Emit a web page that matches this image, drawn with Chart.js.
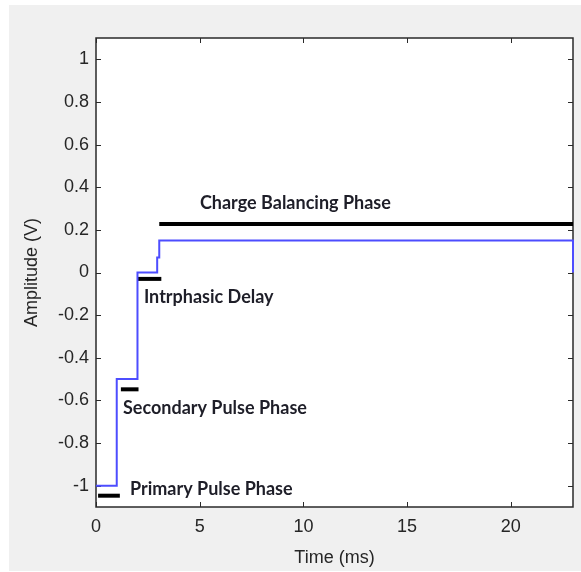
<!DOCTYPE html>
<html lang="en">
<head>
  <meta charset="UTF-8">
  <title>Biphasic pulse</title>
  <script src="https://cdn.jsdelivr.net/npm/chart.js"></script>
  <style>
    html, body { margin: 0; padding: 0; background: #fff; }
    #wrap { width: 581px; height: 572px; }
  </style>
</head>
<body>
  <div id="wrap">
    <canvas id="myChart" width="581" height="572"></canvas>
  </div>

  <script>
    // axis ticks
    const xTicks = [0, 5, 10, 15, 20];
    const yTicks = [-1, -0.8, -0.6, -0.4, -0.2, 0, 0.2, 0.4, 0.6, 0.8, 1];
    const yTickLabels = ['-1', '-0.8', '-0.6', '-0.4', '-0.2', '0', '0.2', '0.4', '0.6', '0.8', '1'];

    // stimulus waveform (ms, V)
    const signalTime = [0, 1, 1, 2, 2, 2.95, 2.95, 3.05, 3.05, 23, 23];
    const signalAmp = [-1, -1, -0.5, -0.5, 0, 0, 0.07, 0.07, 0.15, 0.15, 0];

    // phase markers
    const phaseNames = ['Primary Pulse Phase', 'Secondary Pulse Phase', 'Intrphasic Delay', 'Charge Balancing Phase'];
    const phaseStart = [0.1, 1.2, 2.0, 3.05];
    const phaseEnd = [1.15, 2.05, 3.15, 23];
    const phaseLevel = [-1.047, -0.548, -0.03, 0.228];
    const labelTime = [1.64, 1.30, 2.31, 5.01];
    const labelAmp = [-1.016, -0.636, -0.115, 0.326];

    const signalPts = signalTime.map((t, i) => ({ x: t, y: signalAmp[i] }));

    const datasets = [{
      label: 'signal',
      data: signalPts,
      showLine: true,
      borderColor: '#4d4dff',
      borderWidth: 2,
      pointRadius: 0,
      tension: 0,
      clip: 2
    }];
    phaseNames.forEach((name, i) => {
      datasets.push({
        label: name,
        data: [{ x: phaseStart[i], y: phaseLevel[i] }, { x: phaseEnd[i], y: phaseLevel[i] }],
        showLine: true,
        borderColor: '#000',
        borderWidth: 4,
        borderCapStyle: 'butt',
        pointRadius: 0,
        clip: 2
      });
    });

    const axisColor = '#2a2a2a';

    const background = {
      id: 'background',
      beforeDraw(chart) {
        const c = chart.ctx, a = chart.chartArea;
        c.save();
        c.fillStyle = '#fff';
        c.fillRect(0, 0, chart.width, chart.height);
        c.fillStyle = '#f0f0f0';
        c.fillRect(9, 5, chart.width - 9, 566);
        c.fillStyle = '#fff';
        c.fillRect(a.left, a.top, a.right - a.left, a.bottom - a.top);
        c.restore();
      }
    };

    // matlab style box with inward ticks on all four sides, drawn under the lines
    const frame = {
      id: 'frame',
      beforeDatasetsDraw(chart) {
        const c = chart.ctx, a = chart.chartArea;
        const xs = chart.scales.x, ys = chart.scales.y;
        c.save();
        c.strokeStyle = axisColor;
        c.lineWidth = 1.5;
        c.strokeRect(a.left, a.top, a.right - a.left, a.bottom - a.top);
        c.lineWidth = 1;
        c.beginPath();
        xTicks.forEach(v => {
          const px = Math.round(xs.getPixelForValue(v)) + 0.5;
          c.moveTo(px, a.bottom); c.lineTo(px, a.bottom - 5);
          c.moveTo(px, a.top); c.lineTo(px, a.top + 5);
        });
        yTicks.forEach(v => {
          const py = Math.round(ys.getPixelForValue(v)) + 0.5;
          c.moveTo(a.left, py); c.lineTo(a.left + 5, py);
          c.moveTo(a.right, py); c.lineTo(a.right - 5, py);
        });
        c.stroke();
        c.restore();
      },
      afterDraw(chart) {
        const c = chart.ctx;
        const xs = chart.scales.x, ys = chart.scales.y;
        c.save();
        c.fillStyle = '#1e1e28';
        c.font = 'bold 18px Lato, "Open Sans", sans-serif';
        c.textAlign = 'left';
        c.textBaseline = 'middle';
        phaseNames.forEach((name, i) => {
          c.fillText(name, xs.getPixelForValue(labelTime[i]), ys.getPixelForValue(labelAmp[i]));
        });
        c.restore();
      }
    };

    const tickFont = { family: '"Liberation Sans", Arial, sans-serif', size: 18 };

    new Chart(document.getElementById('myChart').getContext('2d'), {
      type: 'scatter',
      data: { datasets: datasets },
      options: {
        responsive: false,
        animation: false,
        devicePixelRatio: 1,
        layout: { padding: { left: 0, top: 38, right: 8, bottom: 0 } },
        plugins: { legend: { display: false }, tooltip: { enabled: false } },
        scales: {
          x: {
            type: 'linear',
            min: 0, max: 23,
            grid: { display: false, drawTicks: false },
            border: { display: false },
            afterBuildTicks: s => { s.ticks = xTicks.map(v => ({ value: v })); },
            afterFit: s => { s.height = 65; },
            ticks: { color: '#262626', font: tickFont, padding: 9, maxRotation: 0 },
            title: { display: true, text: 'Time (ms)', color: '#262626', font: tickFont, padding: { top: 0, bottom: 3 } }
          },
          y: {
            type: 'linear',
            min: -1.1, max: 1.1,
            grid: { display: false, drawTicks: false },
            border: { display: false },
            afterBuildTicks: s => { s.ticks = yTicks.map(v => ({ value: v })); },
            afterFit: s => { s.width = 96; },
            ticks: { color: '#262626', font: tickFont, padding: 7, callback: (v, i) => yTickLabels[i] },
            title: { display: true, text: 'Amplitude (V)', color: '#262626', font: tickFont, padding: { top: 21, bottom: 0 } }
          }
        }
      },
      plugins: [background, frame]
    });
  </script>
</body>
</html>
